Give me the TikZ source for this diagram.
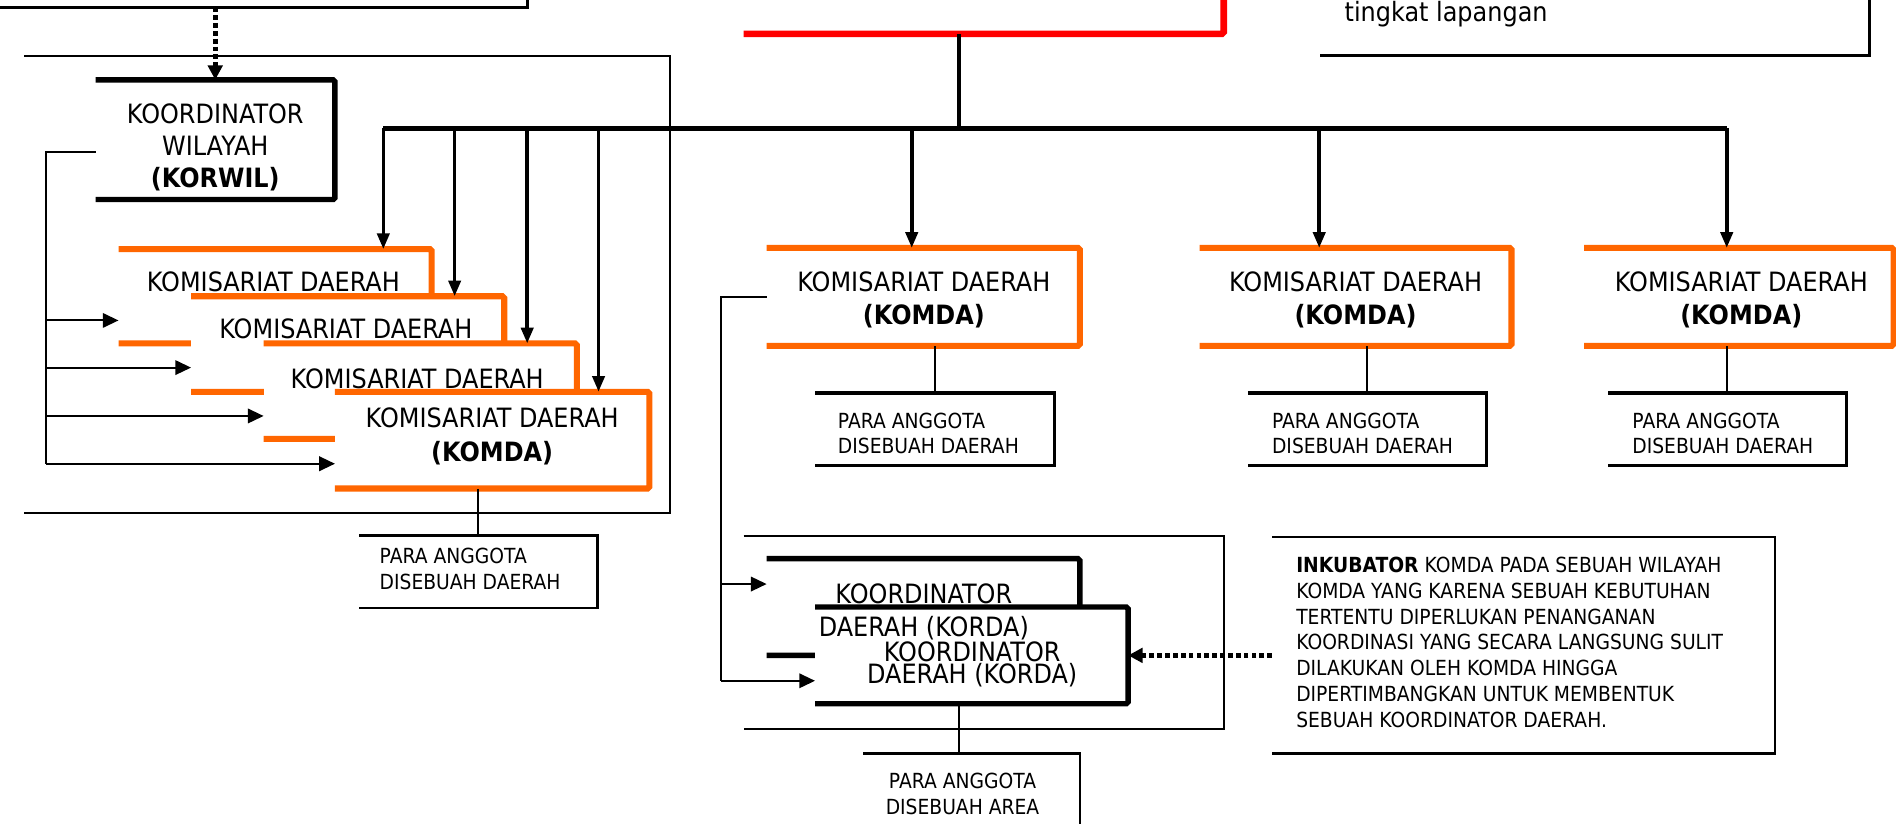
\documentclass[tikz,border=0pt]{standalone}
\usepackage{fontspec}
\setmainfont{DejaVu Sans}[FakeStretch=0.9]
\usetikzlibrary{arrows.meta,calc}
\definecolor{borange}{HTML}{FF6600}
\definecolor{bred}{HTML}{FF0000}
\tikzset{
  frame/.style={draw=none, fill=white, inner sep=0pt, outer sep=0pt},
  openframe/.style={draw=none, inner sep=0pt, outer sep=0pt},
  bigtxt/.style={inner sep=0pt, outer sep=0pt, align=center, font=\fontsize{22}{27}\selectfont},
  smalltxt/.style={inner sep=0pt, outer sep=0pt, align=left, font=\fontsize{17.2}{21}\selectfont},
  oedge/.style={draw=borange, line width=5pt, rounded corners=1.5pt},
  redge/.style={draw=bred, line width=5.5pt, rounded corners=1.5pt},
  kedge/.style={draw=black, line width=4.5pt, rounded corners=1.5pt},
  pedge/.style={draw=black, line width=2.5pt},
  tedge/.style={draw=black, line width=1.5pt},
  bus/.style={line width=4pt},
  drop/.style={line width=3pt, -{Triangle[length=13pt,width=10pt]}},
  feed/.style={line width=1.6pt, -{Triangle[length=13pt,width=12pt]}},
  dotarrow/.style={line width=4.3pt, dash pattern=on 4pt off 2.5pt, -{Triangle[length=12pt,width=12pt]}},
}
\newcommand\tside[2]{\draw[#2] (#1.north west) -- (#1.north east) -- (#1.south east) -- (#1.south west);}
\begin{document}
\begin{tikzpicture}[x=1pt,y=-1pt]
\useasboundingbox (0,0) rectangle (1568,681);

% ---------- top boxes (cut off) ----------
\node[openframe, minimum width=496pt, minimum height=66pt] (tl) at (188,-27) {};
\draw[line width=2.4pt] (tl.north east) -- (tl.south east) -- (tl.south west);
\node[openframe, minimum width=397pt, minimum height=68pt] (red) at (813.5,-6) {};
\tside{red}{redge}
\node[openframe, minimum width=454pt, minimum height=106pt] (tr) at (1319,-7) {};
\tside{tr}{line width=2.8pt}
\node[smalltxt, anchor=base west, font=\fontsize{22}{27}\selectfont] (trt) at (1112,18) {tingkat lapangan};

% ---------- left region ----------
\node[openframe, minimum width=534pt, minimum height=378pt] (bigL) at (287,235) {};
\tside{bigL}{tedge}

\node[frame, minimum width=198pt, minimum height=99pt] (korwil) at (178,115.5) {};
\tside{korwil}{kedge}
\node[bigtxt, anchor=north, font=\fontsize{22}{26.5}\selectfont] (korwilt) at (178,86)
  {KOORDINATOR\\WILAYAH\\\textbf{(KORWIL)}};

\draw[dotarrow] (korwil.north |- tl.south) -- (korwil.north);

\node[frame, minimum width=259pt, minimum height=78pt] (komA) at (227.5,245) {};
\tside{komA}{oedge}
\node[bigtxt, anchor=north] (komAt) at (226,225) {KOMISARIAT DAERAH};
\node[frame, minimum width=259pt, minimum height=79pt] (komB) at (287.5,284.5) {};
\tside{komB}{oedge}
\node[bigtxt, anchor=north] (komBt) at (286,264) {KOMISARIAT DAERAH};
\node[frame, minimum width=259pt, minimum height=79pt] (komC) at (347.5,323.5) {};
\tside{komC}{oedge}
\node[bigtxt, anchor=north] (komCt) at (345,305) {KOMISARIAT DAERAH};
\node[frame, minimum width=260pt, minimum height=80pt] (komD) at (407,364) {};
\tside{komD}{oedge}
\node[bigtxt, anchor=north, font=\fontsize{22}{28}\selectfont] (komDt) at (407,337)
  {KOMISARIAT DAERAH\\\textbf{(KOMDA)}};

\node[openframe, minimum width=197pt, minimum height=60pt] (p4) at (395.5,473) {};
\tside{p4}{line width=2pt}
\node[smalltxt, anchor=north west] (p4t) at (314,453.6) {PARA ANGGOTA\\DISEBUAH DAERAH};
\draw[line width=1.5pt] (p4.north) -- (p4.north |- komD.south);

% feeders from KORWIL
\coordinate (trL) at (38,126);
\coordinate (aA) at ([yshift=-20pt]komA.west);
\coordinate (aB) at ([yshift=-19.5pt]komB.west);
\coordinate (aC) at ([yshift=-20.5pt]komC.west);
\coordinate (aD) at ([yshift=-19.5pt]komD.west);
\draw[line width=1.6pt] ([yshift=-10.5pt]korwil.west) -- (trL) -- (trL |- aD);
\draw[feed] (trL |- aA) -- (aA);
\draw[feed] (trL |- aB) -- (aB);
\draw[feed] (trL |- aC) -- (aC);
\draw[feed] (trL |- aD) -- (aD);

% ---------- right KOMDA boxes ----------
\node[frame, minimum width=259pt, minimum height=81pt] (k1) at (763.5,245.5) {};
\tside{k1}{oedge}
\node[bigtxt, anchor=north] (k1t) at (764,225) {KOMISARIAT DAERAH\\\textbf{(KOMDA)}};
\node[frame, minimum width=258pt, minimum height=81pt] (k2) at (1121,245.5) {};
\tside{k2}{oedge}
\node[bigtxt, anchor=north] (k2t) at (1121,225) {KOMISARIAT DAERAH\\\textbf{(KOMDA)}};
\node[frame, minimum width=256pt, minimum height=81pt] (k3) at (1438,245.5) {};
\tside{k3}{oedge}
\node[bigtxt, anchor=north] (k3t) at (1440,225) {KOMISARIAT DAERAH\\\textbf{(KOMDA)}};

\node[openframe, minimum width=198pt, minimum height=60pt] (p1) at (773,355) {};
\tside{p1}{pedge}
\node[smalltxt, anchor=north west] (p1t) at (693,341.6) {PARA ANGGOTA\\DISEBUAH DAERAH};
\node[openframe, minimum width=197pt, minimum height=60pt] (p2) at (1130.5,355) {};
\tside{p2}{pedge}
\node[smalltxt, anchor=north west] (p2t) at (1052,341.6) {PARA ANGGOTA\\DISEBUAH DAERAH};
\node[openframe, minimum width=197pt, minimum height=60pt] (p3) at (1428.5,355) {};
\tside{p3}{pedge}
\node[smalltxt, anchor=north west] (p3t) at (1350,341.6) {PARA ANGGOTA\\DISEBUAH DAERAH};
\draw[line width=1.5pt] (p1.north) -- (p1.north |- k1.south);
\draw[line width=1.5pt] (p2.north) -- (p2.north |- k2.south);
\draw[line width=1.5pt] (p3.north) -- (p3.north |- k3.south);

% ---------- bus ----------
\coordinate (rb) at (793,28);
\coordinate (bc) at (793,106);
\coordinate (b1) at (317,106);
\coordinate (b2) at (376,106);
\coordinate (b3) at (436,106);
\coordinate (b4) at (495,106);
\coordinate (b5) at (754,106);
\coordinate (b6) at (1091,106);
\coordinate (b7) at (1428,106);
\draw[line width=3pt] (rb) -- (bc);
\draw[bus] (b1) -- (b7);
\draw[drop] (b1) -- (b1 |- komA.north);
\draw[drop] (b2) -- (b2 |- komB.north);
\draw[drop] (b3) -- (b3 |- komC.north);
\draw[drop] (b4) -- (b4 |- komD.north);
\draw[drop] (b5) -- (b5 |- k1.north);
\draw[drop] (b6) -- (b6 |- k2.north);
\draw[drop] (b7) -- (b7 |- k3.north);

% ---------- KORDA region ----------
\node[openframe, minimum width=397pt, minimum height=160pt] (bigR) at (813.5,523) {};
\tside{bigR}{tedge}
\node[frame, minimum width=259pt, minimum height=80pt] (korda1) at (763.5,502) {};
\tside{korda1}{kedge}
\node[frame, minimum width=259pt, minimum height=80pt] (korda2) at (803.5,542) {};
\tside{korda2}{kedge}
\node[bigtxt, anchor=north] (korda1t) at (764,483) {KOORDINATOR\\DAERAH (KORDA)};
\node[bigtxt, anchor=north, font=\fontsize{22}{18}\selectfont] (korda2t) at (804,531) {KOORDINATOR\\DAERAH (KORDA)};

\node[openframe, minimum width=179pt, minimum height=77pt] (p5) at (803.5,661.5) {};
\tside{p5}{line width=2pt}
\node[smalltxt, anchor=north, align=center] (p5t) at (796,639.6) {PARA ANGGOTA\\DISEBUAH AREA};
\draw[line width=1.5pt] ([xshift=-10.5pt]p5.north) -- ([xshift=-10.5pt]p5.north |- korda2.south);

\coordinate (trR) at (596,245.5);
\coordinate (c1) at ([yshift=19pt]korda1.west);
\coordinate (c2) at ([yshift=-21pt]korda2.west);
\draw[line width=1.6pt] (k1.west) -- (trR) -- (trR |- c2);
\draw[feed] (trR |- c1) -- (c1);
\draw[feed] (trR |- c2) -- (c2);

% ---------- INKUBATOR ----------
\node[openframe, minimum width=416pt, minimum height=179pt] (inkub) at (1260,533.5) {};
\tside{inkub}{line width=2pt}
\node[smalltxt, anchor=north west, font=\fontsize{17.2}{21.35}\selectfont] (inkubt) at (1072,460.6)
  {\textbf{INKUBATOR} KOMDA PADA SEBUAH WILAYAH\\
   KOMDA YANG KARENA SEBUAH KEBUTUHAN\\
   TERTENTU DIPERLUKAN PENANGANAN\\
   KOORDINASI YANG SECARA LANGSUNG SULIT\\
   DILAKUKAN OLEH KOMDA HINGGA\\
   DIPERTIMBANGKAN UNTUK MEMBENTUK\\
   SEBUAH KOORDINATOR DAERAH.};
\draw[dotarrow] (inkub.west |- korda2.east) -- (korda2.east);

\end{tikzpicture}
\end{document}
